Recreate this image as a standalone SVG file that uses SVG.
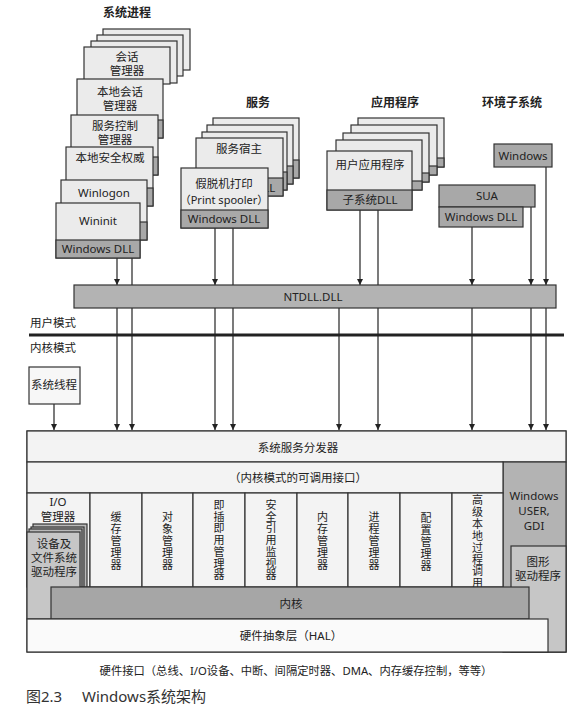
<svg xmlns="http://www.w3.org/2000/svg" width="588" height="710" viewBox="0 0 588 710">
<defs>
<marker id="arr" markerUnits="userSpaceOnUse" markerWidth="7" markerHeight="7" refX="6" refY="3.5" orient="auto">
<path d="M0,0.5 L6,3.5 L0,6.5 z" fill="#222"/>
</marker>
<style>
.bx{fill:#ebebeb;stroke:#333;stroke-width:1.2}
.dl{fill:#a8a8a8;stroke:#333;stroke-width:1.2}
.gr{fill:#b3b3b3;stroke:#333;stroke-width:1.2}
.wt{fill:#f3f3f3;stroke:#333;stroke-width:1.2}
.t{font-family:"Noto Sans","Noto Sans CJK SC",sans-serif;font-size:11.5px;fill:#222;text-anchor:middle}
.v{font-family:"Noto Sans CJK SC",sans-serif;font-size:11px;fill:#222;text-anchor:middle}
.h{font-family:"Noto Sans CJK SC",sans-serif;font-size:12px;font-weight:bold;fill:#222;text-anchor:middle}
.ln{stroke:#222;stroke-width:1.2;fill:none}
.a{stroke:#222;stroke-width:1.2;fill:none;marker-end:url(#arr)}
</style>
</defs>
<rect width="588" height="710" fill="#fff"/>

<!-- titles -->
<text class="h" x="127" y="17">系统进程</text>
<text class="h" x="258" y="107">服务</text>
<text class="h" x="395" y="107">应用程序</text>
<text class="h" x="512" y="107">环境子系统</text>

<!-- connectors -->
<g id="connectors">
<line class="a" x1="117" y1="258" x2="117" y2="285"/>
<line class="ln" x1="132" y1="258" x2="132" y2="300"/>
<line class="a" x1="215" y1="228" x2="215" y2="285"/>
<line class="ln" x1="233" y1="228" x2="233" y2="300"/>
<line class="a" x1="360" y1="210" x2="360" y2="285"/>
<line class="ln" x1="378" y1="210" x2="378" y2="300"/>
<line class="a" x1="472" y1="227" x2="472" y2="285"/>
<line class="a" x1="531" y1="207" x2="531" y2="285"/>
<line class="a" x1="546" y1="167" x2="546" y2="285"/>
<line class="a" x1="117" y1="308" x2="117" y2="430"/>
<line class="a" x1="132" y1="300" x2="132" y2="430"/>
<line class="a" x1="215" y1="308" x2="215" y2="430"/>
<line class="a" x1="233" y1="300" x2="233" y2="430"/>
<line class="a" x1="339" y1="308" x2="339" y2="430"/>
<line class="a" x1="378" y1="300" x2="378" y2="430"/>
<line class="a" x1="472" y1="308" x2="472" y2="430"/>
<line class="a" x1="531" y1="308" x2="531" y2="430"/>
<line class="a" x1="546" y1="308" x2="546" y2="430"/>
<line class="a" x1="54" y1="404" x2="54" y2="430"/>
</g>

<!-- system processes -->
<g id="sysproc">
<rect class="bx" x="103" y="29" width="87" height="41"/>
<rect class="bx" x="97" y="35" width="86" height="41"/>
<rect class="bx" x="91" y="41" width="86" height="42"/>
<g id="smss"><rect class="bx" x="84" y="47" width="86" height="37"/>
<text class="t" x="127" y="61">会话</text><text class="t" x="127" y="75">管理器</text></g>
<g id="lsm"><rect class="bx" x="77" y="79" width="86" height="59"/><rect class="dl" x="77" y="120" width="86" height="18"/>
<text class="t" x="120" y="96">本地会话</text><text class="t" x="120" y="110">管理器</text></g>
<g id="scm"><rect class="bx" x="71" y="115" width="87" height="60"/><rect class="dl" x="71" y="157" width="87" height="18"/>
<text class="t" x="115" y="130">服务控制</text><text class="t" x="115" y="144">管理器</text></g>
<g id="lsa"><rect class="bx" x="66" y="147" width="87" height="59"/><rect class="dl" x="66" y="188" width="87" height="18"/>
<text class="t" x="110" y="162">本地安全权威</text></g>
<g id="winlogon"><rect class="bx" x="61" y="180" width="86" height="60"/><rect class="dl" x="61" y="222" width="86" height="18"/>
<text class="t" x="104" y="197">Winlogon</text></g>
<g id="wininit"><rect class="bx" x="56" y="203" width="84" height="55"/><rect class="dl" x="56" y="240" width="84" height="18"/>
<text class="t" x="98" y="225">Wininit</text><text class="t" x="98" y="253">Windows DLL</text></g>
</g>

<!-- services -->
<g id="services">
<rect class="bx" x="213" y="118" width="86" height="60"/><rect class="dl" x="213" y="160" width="86" height="18"/>
<rect class="bx" x="207" y="125" width="86" height="59"/><rect class="dl" x="207" y="166" width="86" height="18"/>
<rect class="bx" x="202" y="132" width="85" height="58"/><rect class="dl" x="202" y="172" width="85" height="18"/>
<g id="svchost"><rect class="bx" x="196" y="138" width="87" height="58"/><rect class="dl" x="196" y="178" width="87" height="18"/>
<text class="t" x="239" y="153">服务宿主</text><text class="t" x="239" y="192">Windows DLL</text></g>
<g id="spooler"><rect class="bx" x="181" y="168" width="87" height="60"/><rect class="dl" x="181" y="210" width="87" height="18"/>
<text class="t" x="224" y="188">假脱机打印</text><text class="t" x="224" y="204" style="font-size:11px">（Print spooler）</text><text class="t" x="224" y="223">Windows DLL</text></g>
</g>

<!-- applications -->
<g id="apps">
<rect class="bx" x="358" y="118" width="86" height="49"/><rect class="dl" x="358" y="158" width="86" height="9"/>
<rect class="bx" x="351" y="125" width="86" height="50"/><rect class="dl" x="351" y="166" width="86" height="9"/>
<rect class="bx" x="343" y="133" width="86" height="49"/><rect class="dl" x="343" y="173" width="86" height="9"/>
<rect class="bx" x="336" y="140" width="86" height="50"/><rect class="dl" x="336" y="181" width="86" height="9"/>
<g id="userapp"><rect class="bx" x="327" y="151" width="85" height="59"/><rect class="dl" x="327" y="190" width="85" height="20"/>
<text class="t" x="370" y="169">用户应用程序</text><text class="t" x="370" y="204">子系统DLL</text></g>
</g>

<!-- environment subsystems -->
<g id="env-windows"><rect class="dl" x="494" y="144" width="58" height="23"/><text class="t" x="523" y="160">Windows</text></g>
<g id="env-sua"><rect class="dl" x="439" y="185" width="96" height="22"/><text class="t" x="487" y="200">SUA</text>
<rect class="dl" x="439" y="207" width="84" height="20"/><text class="t" x="481" y="221">Windows DLL</text></g>

<!-- NTDLL -->
<g id="ntdll"><rect class="gr" x="74" y="285" width="482" height="23"/><text class="t" x="313" y="301">NTDLL.DLL</text></g>

<!-- mode separator -->
<g id="modes">
<text class="t" x="53" y="327">用户模式</text>
<line x1="29" y1="335" x2="564" y2="335" stroke="#222" stroke-width="3"/>
<text class="t" x="53" y="352">内核模式</text>
</g>

<g id="systhread"><rect class="bx" x="29" y="367" width="51" height="37" style="fill:#f7f7f7"/><text class="t" x="54" y="389">系统线程</text></g>

<!-- kernel area -->
<g id="kernel-area">
<rect x="27" y="431" width="539" height="221" fill="#f3f3f3" stroke="#333" stroke-width="1.2"/>
<g id="dispatcher"><rect class="wt" x="27" y="431" width="539" height="31"/><text class="t" x="298" y="452">系统服务分发器</text></g>
<g id="usergdi"><rect class="gr" x="503" y="462" width="63" height="190"/>
<text class="t" x="534" y="500">Windows</text><text class="t" x="534" y="515">USER,</text><text class="t" x="534" y="530">GDI</text></g>
<g id="gfx"><rect x="511" y="546" width="55" height="106" fill="#c6c6c6" stroke="#333" stroke-width="1.2"/>
<text class="t" x="538" y="566">图形</text><text class="t" x="538" y="580">驱动程序</text></g>
<g id="callable"><rect class="wt" x="27" y="462" width="476" height="31"/><text class="t" x="298" y="482">（内核模式的可调用接口）</text></g>

<g id="iomgr"><rect class="wt" x="27" y="493" width="63" height="94"/>
<text class="t" x="58" y="506">I/O</text><text class="t" x="58" y="521">管理器</text></g>
<g id="drivers">
<rect x="33" y="524" width="54" height="63" fill="#b9b9b9" stroke="#333" stroke-width="1.2"/>
<rect x="31" y="527" width="53" height="60" fill="#b9b9b9" stroke="#333" stroke-width="1.2"/>
<rect x="29" y="529" width="53" height="58" fill="#b9b9b9" stroke="#333" stroke-width="1.2"/>
<rect x="27" y="532" width="53" height="87" fill="#c6c6c6" stroke="#333" stroke-width="1.2"/>
<text class="t" x="54" y="548">设备及</text><text class="t" x="54" y="562">文件系统</text><text class="t" x="54" y="576">驱动程序</text>
</g>

<g id="cachemgr"><rect class="wt" x="90" y="493" width="52" height="94"/>
<text class="v" x="116" y="521"><tspan x="116">缓</tspan><tspan x="116" dy="12">存</tspan><tspan x="116" dy="12">管</tspan><tspan x="116" dy="12">理</tspan><tspan x="116" dy="12">器</tspan></text></g>
<g id="objmgr"><rect class="wt" x="142" y="493" width="51" height="94"/>
<text class="v" x="167.5" y="521"><tspan x="167.5">对</tspan><tspan x="167.5" dy="12">象</tspan><tspan x="167.5" dy="12">管</tspan><tspan x="167.5" dy="12">理</tspan><tspan x="167.5" dy="12">器</tspan></text></g>
<g id="pnpmgr"><rect class="wt" x="193" y="493" width="52" height="94"/>
<text class="v" x="219" y="509"><tspan x="219">即</tspan><tspan x="219" dy="11.7">插</tspan><tspan x="219" dy="11.7">即</tspan><tspan x="219" dy="11.7">用</tspan><tspan x="219" dy="11.7">管</tspan><tspan x="219" dy="11.7">理</tspan><tspan x="219" dy="11.7">器</tspan></text></g>
<g id="srm"><rect class="wt" x="245" y="493" width="52" height="94"/>
<text class="v" x="271" y="509"><tspan x="271">安</tspan><tspan x="271" dy="11.7">全</tspan><tspan x="271" dy="11.7">引</tspan><tspan x="271" dy="11.7">用</tspan><tspan x="271" dy="11.7">监</tspan><tspan x="271" dy="11.7">视</tspan><tspan x="271" dy="11.7">器</tspan></text></g>
<g id="memmgr"><rect class="wt" x="297" y="493" width="51" height="94"/>
<text class="v" x="322.5" y="521"><tspan x="322.5">内</tspan><tspan x="322.5" dy="12">存</tspan><tspan x="322.5" dy="12">管</tspan><tspan x="322.5" dy="12">理</tspan><tspan x="322.5" dy="12">器</tspan></text></g>
<g id="procmgr"><rect class="wt" x="348" y="493" width="52" height="94"/>
<text class="v" x="374" y="521"><tspan x="374">进</tspan><tspan x="374" dy="12">程</tspan><tspan x="374" dy="12">管</tspan><tspan x="374" dy="12">理</tspan><tspan x="374" dy="12">器</tspan></text></g>
<g id="cfgmgr"><rect class="wt" x="400" y="493" width="52" height="94"/>
<text class="v" x="426" y="522"><tspan x="426">配</tspan><tspan x="426" dy="12">置</tspan><tspan x="426" dy="12">管</tspan><tspan x="426" dy="12">理</tspan><tspan x="426" dy="12">器</tspan></text></g>
<g id="alpc"><rect class="wt" x="452" y="493" width="51" height="94"/>
<text class="v" x="477.5" y="504"><tspan x="477.5">高</tspan><tspan x="477.5" dy="11.9">级</tspan><tspan x="477.5" dy="11.9">本</tspan><tspan x="477.5" dy="11.9">地</tspan><tspan x="477.5" dy="11.9">过</tspan><tspan x="477.5" dy="11.9">程</tspan><tspan x="477.5" dy="11.9">调</tspan><tspan x="477.5" dy="11.9">用</tspan></text></g>

<g id="kernel"><rect x="51" y="587" width="478" height="32" fill="#a6a6a6" stroke="#333" stroke-width="1.2"/><text class="t" x="291" y="608">内核</text></g>
<g id="hal"><rect x="27" y="619" width="521" height="33" fill="#fafafa" stroke="#333" stroke-width="1.2"/><text class="t" x="291" y="640">硬件抽象层（HAL）</text></g>
</g>

<text class="t" x="296" y="675" style="font-size:11.3px">硬件接口（总线、I/O设备、中断、间隔定时器、DMA、内存缓存控制，等等）</text>
<text x="26" y="702" style="font-family:'Noto Sans','Noto Sans CJK SC',sans-serif;font-size:15px;fill:#333">图2.3</text>
<text x="82" y="702" style="font-family:'Noto Sans','Noto Sans CJK SC',sans-serif;font-size:15px;fill:#333">Windows系统架构</text>
</svg>
